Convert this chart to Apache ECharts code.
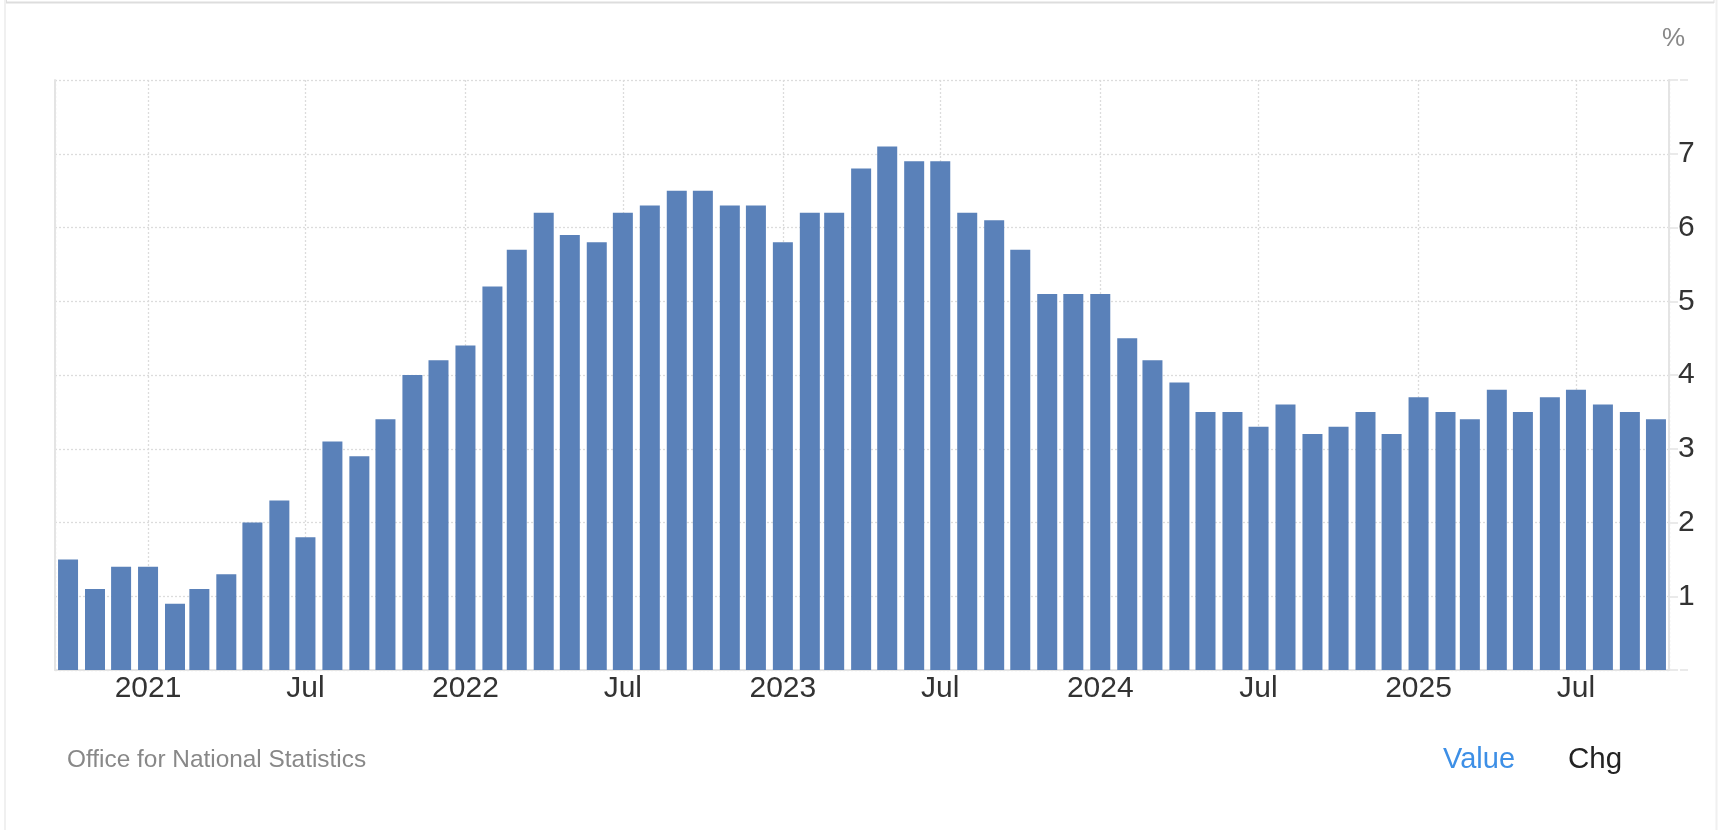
<!DOCTYPE html>
<html>
<head>
<meta charset="utf-8">
<script src="https://cdn.jsdelivr.net/npm/echarts@6/dist/echarts.min.js"></script>
<style>
html,body{margin:0;padding:0;background:#fff;}
#chart{width:1722px;height:830px;}
</style>
</head>
<body>
<div id="chart"></div>
<script>
// Months (first day of each month), Oct 2020 .. Oct 2025
const months = [
  '2020-10-01','2020-11-01','2020-12-01',
  '2021-01-01','2021-02-01','2021-03-01','2021-04-01','2021-05-01','2021-06-01','2021-07-01','2021-08-01','2021-09-01','2021-10-01','2021-11-01','2021-12-01',
  '2022-01-01','2022-02-01','2022-03-01','2022-04-01','2022-05-01','2022-06-01','2022-07-01','2022-08-01','2022-09-01','2022-10-01','2022-11-01','2022-12-01',
  '2023-01-01','2023-02-01','2023-03-01','2023-04-01','2023-05-01','2023-06-01','2023-07-01','2023-08-01','2023-09-01','2023-10-01','2023-11-01','2023-12-01',
  '2024-01-01','2024-02-01','2024-03-01','2024-04-01','2024-05-01','2024-06-01','2024-07-01','2024-08-01','2024-09-01','2024-10-01','2024-11-01','2024-12-01',
  '2025-01-01','2025-02-01','2025-03-01','2025-04-01','2025-05-01','2025-06-01','2025-07-01','2025-08-01','2025-09-01','2025-10-01'
];
// Core inflation rate, %
const values = [
  1.5, 1.1, 1.4,
  1.4, 0.9, 1.1, 1.3, 2.0, 2.3, 1.8, 3.1, 2.9, 3.4, 4.0, 4.2,
  4.4, 5.2, 5.7, 6.2, 5.9, 5.8, 6.2, 6.3, 6.5, 6.5, 6.3, 6.3,
  5.8, 6.2, 6.2, 6.8, 7.1, 6.9, 6.9, 6.2, 6.1, 5.7, 5.1, 5.1,
  5.1, 4.5, 4.2, 3.9, 3.5, 3.5, 3.3, 3.6, 3.2, 3.3, 3.5, 3.2,
  3.7, 3.5, 3.4, 3.8, 3.5, 3.7, 3.8, 3.6, 3.5, 3.4
];
const yTicks = [1, 2, 3, 4, 5, 6, 7];
// axis extent (ECharts pads it by half a bar on each side)
const xMin = '2020-09-27 12:00:00';
const xMax = '2025-10-04 12:00:00';
const unitLabel = '%';
const sourceText = 'Office for National Statistics';
const tabLabels = ['Value', 'Chg'];

const FONT = '"Liberation Sans", Arial, Helvetica, sans-serif';
const DAY = 24 * 3600 * 1000;

const chart = echarts.init(document.getElementById('chart'), null, {renderer: 'canvas'});
const seriesData = months.map((m, i) => [m, values[i]]);

chart.setOption({
  animation: false,
  backgroundColor: '#fff',
  grid: {left: 55, right: 53, top: 80, bottom: 160, containLabel: false},
  xAxis: {
    type: 'time',
    min: xMin,
    max: xMax,
    minInterval: 180 * DAY,
    maxInterval: 186 * DAY,
    axisLine: {show: true, lineStyle: {color: '#e4e4e4', width: 2}},
    axisTick: {show: false},
    splitLine: {show: true, lineStyle: {color: '#dcdcdc', width: 1.3, type: [2, 2]}},
    axisLabel: {
      show: true,
      color: '#333',
      fontFamily: FONT,
      fontSize: 30,
      margin: 4,
      showMinLabel: false,
      showMaxLabel: false,
      formatter: function (v) {
        const d = new Date(v);
        if (d.getDate() !== 1) return '';
        if (d.getMonth() === 0) return String(d.getFullYear());
        if (d.getMonth() === 6) return 'Jul';
        return '';
      }
    }
  },
  yAxis: [{
    type: 'value',
    position: 'right',
    min: 0,
    max: 8,
    interval: 1,
    axisLine: {show: true, lineStyle: {color: '#e4e4e4', width: 2}},
    axisTick: {show: true, length: 19, lineStyle: {color: '#e4e4e4', width: 1.5}},
    splitLine: {show: true, lineStyle: {color: '#dcdcdc', width: 1.3, type: [2, 2]}},
    axisLabel: {
      color: '#333',
      fontFamily: FONT,
      fontSize: 30,
      margin: 9,
      backgroundColor: '#fff',
      padding: [0, 2, 9, 0],
      formatter: function (v) { return yTicks.indexOf(v) >= 0 ? String(v) : ''; }
    }
  }, {
    type: 'value',
    position: 'left',
    min: 0,
    max: 8,
    axisLine: {show: true, onZero: false, lineStyle: {color: '#e4e4e4', width: 2}},
    axisTick: {show: false},
    axisLabel: {show: false},
    splitLine: {show: false}
  }],
  series: [{
    type: 'bar',
    yAxisIndex: 0,
    data: seriesData,
    barWidth: 20,
    itemStyle: {color: '#5a81b9'}
  }],
  graphic: [
    {type: 'line', shape: {x1: 5, y1: 0, x2: 5, y2: 830}, style: {stroke: '#f0f0f0', lineWidth: 2}},
    {type: 'line', shape: {x1: 1716.5, y1: 0, x2: 1716.5, y2: 830}, style: {stroke: '#f0f0f0', lineWidth: 2}},
    {type: 'line', shape: {x1: 6, y1: 2.5, x2: 1714, y2: 2.5}, style: {stroke: '#dddddd', lineWidth: 2}},
    {type: 'line', shape: {x1: 6.5, y1: 0, x2: 6.5, y2: 3}, style: {stroke: '#dddddd', lineWidth: 1}},
    {type: 'line', shape: {x1: 1714, y1: 0, x2: 1714, y2: 3}, style: {stroke: '#dddddd', lineWidth: 1}},
    {type: 'text', x: 1662, y: 39, style: {text: unitLabel, fontFamily: FONT, fontSize: 26, fill: '#888', verticalAlign: 'middle'}},
    {type: 'text', x: 67, y: 760, style: {text: sourceText, fontFamily: FONT, fontSize: 24.4, fill: '#888', verticalAlign: 'middle'}},
    {type: 'text', x: 1443, y: 760, style: {text: tabLabels[0], fontFamily: FONT, fontSize: 29, fill: '#3d8fe6', verticalAlign: 'middle'}},
    {type: 'text', x: 1568, y: 760, style: {text: tabLabels[1], fontFamily: FONT, fontSize: 29.5, fill: '#222', verticalAlign: 'middle'}}
  ]
});
</script>
</body>
</html>
